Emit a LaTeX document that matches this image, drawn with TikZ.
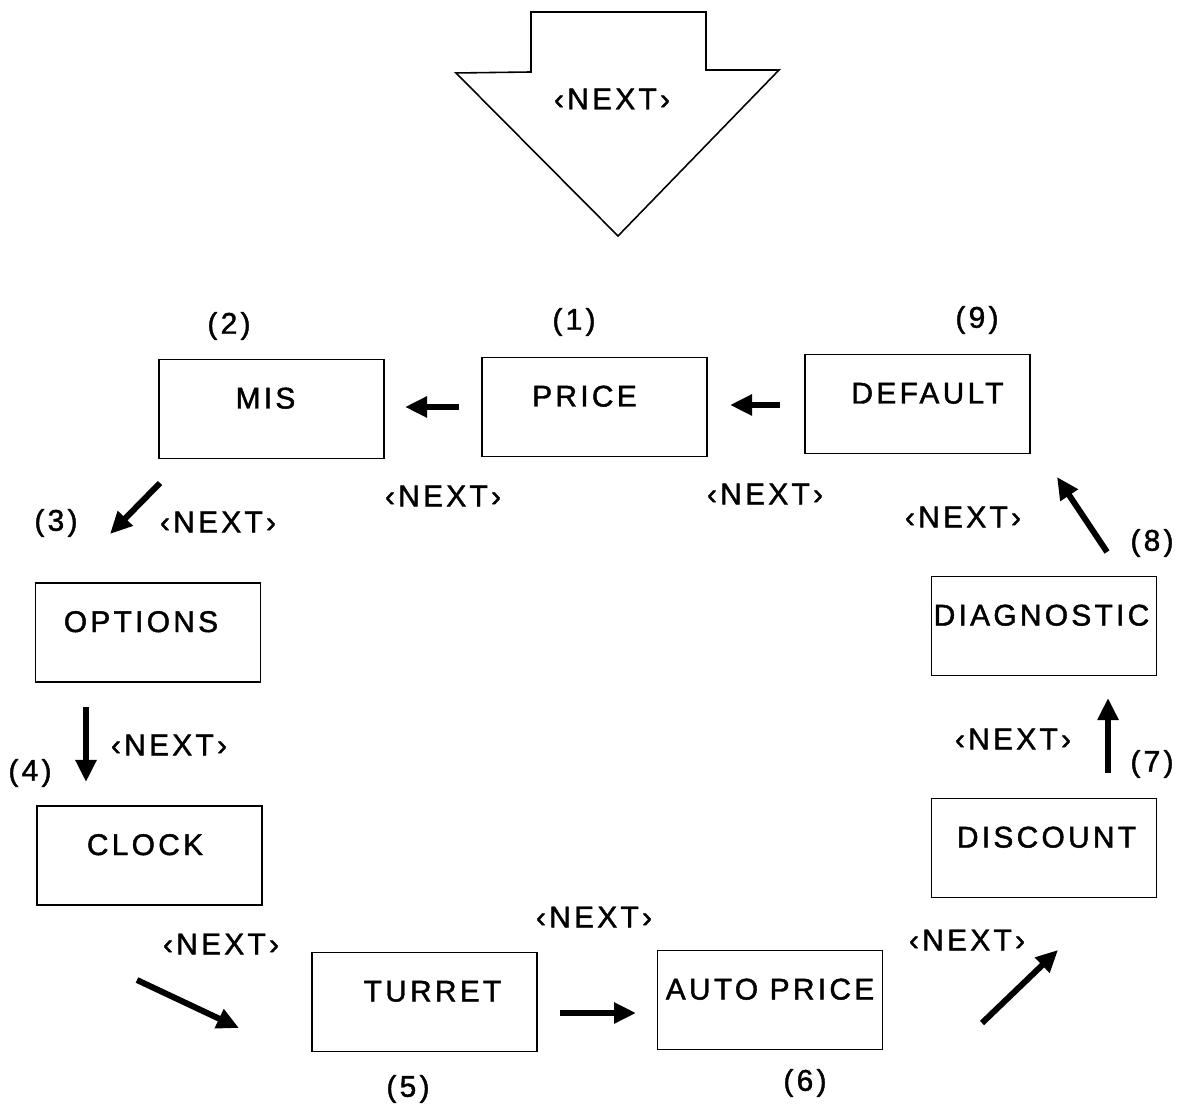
\documentclass[tikz,border=0pt]{standalone}
\usepackage{fontspec}
\setmainfont{Liberation Sans}[LetterSpace=11,FakeBold=1.5]
\usetikzlibrary{arrows.meta}

\begin{document}
\begin{tikzpicture}[x=0.01cm,y=-0.01cm,
  font=\fontsize{8.5}{10}\selectfont,
  box/.style={draw,line width=0.45pt,minimum width=2.25cm,minimum height=0.99cm,inner sep=0pt,text height=0.21cm,text depth=0.22cm},
  tag/.style={inner sep=0pt},
  flow/.style={line width=0.06cm,-{Triangle[length=0.22cm,width=0.2cm]}}]
\useasboundingbox (0,0) rectangle (1189,1107);
% entry arrow
\draw[line width=0.45pt] (531,12) -- (706,12) -- (706,70) -- (779,70) -- (618,236) -- (456,73) -- (531,72) -- cycle;
\node[tag] (entry) at (612,99) {‹NEXT›};
% screens
\node[box] (price) at (594.5,407) {PRICE\kern0.2cm};
\node[box] (mis) at (271.5,409) {MIS\kern0.12cm};
\node[box] (options) at (148,632.5) {OPTIONS\kern0.14cm};
\node[box] (clock) at (149.5,855.5) {CLOCK\kern0.09cm};
\node[box] (turret) at (424.5,1002) {\kern0.16cm TURRET};
\node[box] (autoprice) at (770,1000) {AUTO PRICE};
\node[box] (discount) at (1044,848) {\kern0.05cm DISCOUNT};
\node[box] (diagnostic) at (1044,626) {DIAGNOSTIC\kern0.05cm};
\node[box] (default) at (917.5,404) {\kern0.2cm DEFAULT};
% numbers
\node[tag] (n1) at (574,322) {(1)};
\node[tag] (n2) at (229,326) {(2)};
\node[tag] (n3) at (56,523) {(3)};
\node[tag] (n4) at (30,773) {(4)};
\node[tag] (n5) at (408,1089) {(5)};
\node[tag] (n6) at (805,1083) {(6)};
\node[tag] (n7) at (1152,764) {(7)};
\node[tag] (n8) at (1152,543) {(8)};
\node[tag] (n9) at (977,320) {(9)};
% arrow ends
\coordinate (d-p1) at (780,405); \coordinate (d-p2) at (730,405);
\coordinate (p-m1) at (459,407); \coordinate (p-m2) at (405,407);
\coordinate (m-o1) at (160,483); \coordinate (m-o2) at (110,534);
\coordinate (o-c1) at (86,707); \coordinate (o-c2) at (86,782);
\coordinate (c-t1) at (137,980); \coordinate (c-t2) at (239,1028);
\coordinate (t-a1) at (560,1013); \coordinate (t-a2) at (636,1013);
\coordinate (a-d1) at (982,1023); \coordinate (a-d2) at (1058,950);
\coordinate (d-g1) at (1108,773); \coordinate (d-g2) at (1108,698);
\coordinate (g-d1) at (1107,552); \coordinate (g-d2) at (1057,477);
\draw[flow] (d-p1) -- (d-p2);
\draw[flow] (p-m1) -- (p-m2);
\draw[flow] (m-o1) -- (m-o2);
\draw[flow] (o-c1) -- (o-c2);
\draw[flow] (c-t1) -- (c-t2);
\draw[flow] (t-a1) -- (t-a2);
\draw[flow] (a-d1) -- (a-d2);
\draw[flow] (d-g1) -- (d-g2);
\draw[flow] (g-d1) -- (g-d2);
% key labels
\node[tag] (k1) at (765,494) {‹NEXT›};
\node[tag] (k2) at (443,496) {‹NEXT›};
\node[tag] (k3) at (218,522) {‹NEXT›};
\node[tag] (k4) at (169,745) {‹NEXT›};
\node[tag] (k5) at (221,944) {‹NEXT›};
\node[tag] (k6) at (594,917) {‹NEXT›};
\node[tag] (k7) at (967,940) {‹NEXT›};
\node[tag] (k8) at (1013,739) {‹NEXT›};
\node[tag] (k9) at (963,517) {‹NEXT›};
\end{tikzpicture}
\end{document}
